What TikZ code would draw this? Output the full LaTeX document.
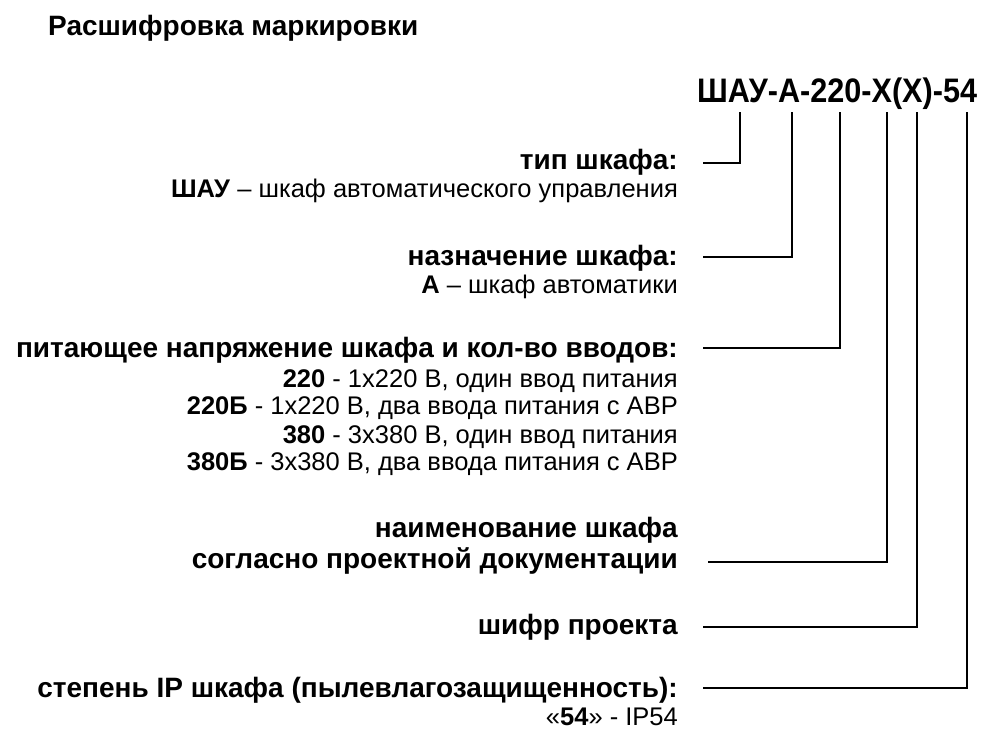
\documentclass[tikz,border=0pt]{standalone}
\usepackage{fontspec}
\setmainfont{Liberation Sans}
\usetikzlibrary{positioning}
\tikzset{txt/.style={
    % right aligned text
    anchor=base east,
    inner sep=0pt,
    font=\fontsize{25.5}{30}\selectfont
    },
    head/.style={
    txt,
    font=\fontsize{28}{33}\selectfont\bfseries
    },
    lead/.style={
    line width=2pt,
    draw=black
    },
}

\begin{document}
\begin{tikzpicture}[x=1pt,y=-1pt]
    \useasboundingbox (0,0) rectangle (1000,738);
    \node (title) [anchor=base west,inner sep=0pt,font=\fontsize{28}{33}\selectfont\bfseries] at (48,36) {Расшифровка маркировки};
    \node (code)  [anchor=base west,inner sep=0pt,font=\fontsize{34}{40}\selectfont\bfseries] at (697,103) {\scalebox{0.9}[1]{ШАУ-А-220-Х(Х)-54}};

    \node (type)   [head] at (678,169) {тип шкафа:};
    \node (type1)  [txt]  at (678,197) {\textbf{ШАУ} – шкаф автоматического управления};
    \node (purp)   [head] at (678,265) {назначение шкафа:};
    \node (purp1)  [txt]  at (678,293) {\textbf{А} – шкаф автоматики};
    \node (volt)   [head] at (678,357) {питающее напряжение шкафа и кол-во вводов:};
    \node (volt1)  [txt]  at (678,387) {\textbf{220} - 1х220 В, один ввод питания};
    \node (volt2)  [txt]  at (678,414) {\textbf{220Б} - 1х220 В, два ввода питания с АВР};
    \node (volt3)  [txt]  at (678,443) {\textbf{380} - 3х380 В, один ввод питания};
    \node (volt4)  [txt]  at (678,470) {\textbf{380Б} - 3х380 В, два ввода питания с АВР};
    \node (name)   [head] at (678,537) {наименование шкафа};
    \node (name1)  [head] at (678,568) {согласно проектной документации};
    \node (cipher) [head] at (678,634) {шифр проекта};
    \node (ip)     [head] at (678,697) {степень IP шкафа (пылевлагозащищенность):};
    \node (ip1)    [txt]  at (678,725) {«\textbf{54}» - IP54};

    \coordinate (tA) at (703,163);
    \coordinate (pA) at (703,257);
    \coordinate (vA) at (703,348);
    \coordinate (nA) at (708,562);
    \coordinate (cA) at (703,627);
    \coordinate (iA) at (703,688);

    \draw[lead] (tA) -| (740,112);
    \draw[lead] (pA) -| (792,112);
    \draw[lead] (vA) -| (840,112);
    \draw[lead] (nA) -| (887,112);
    \draw[lead] (cA) -| (917,112);
    \draw[lead] (iA) -| (967,112);
\end{tikzpicture}
\end{document}
